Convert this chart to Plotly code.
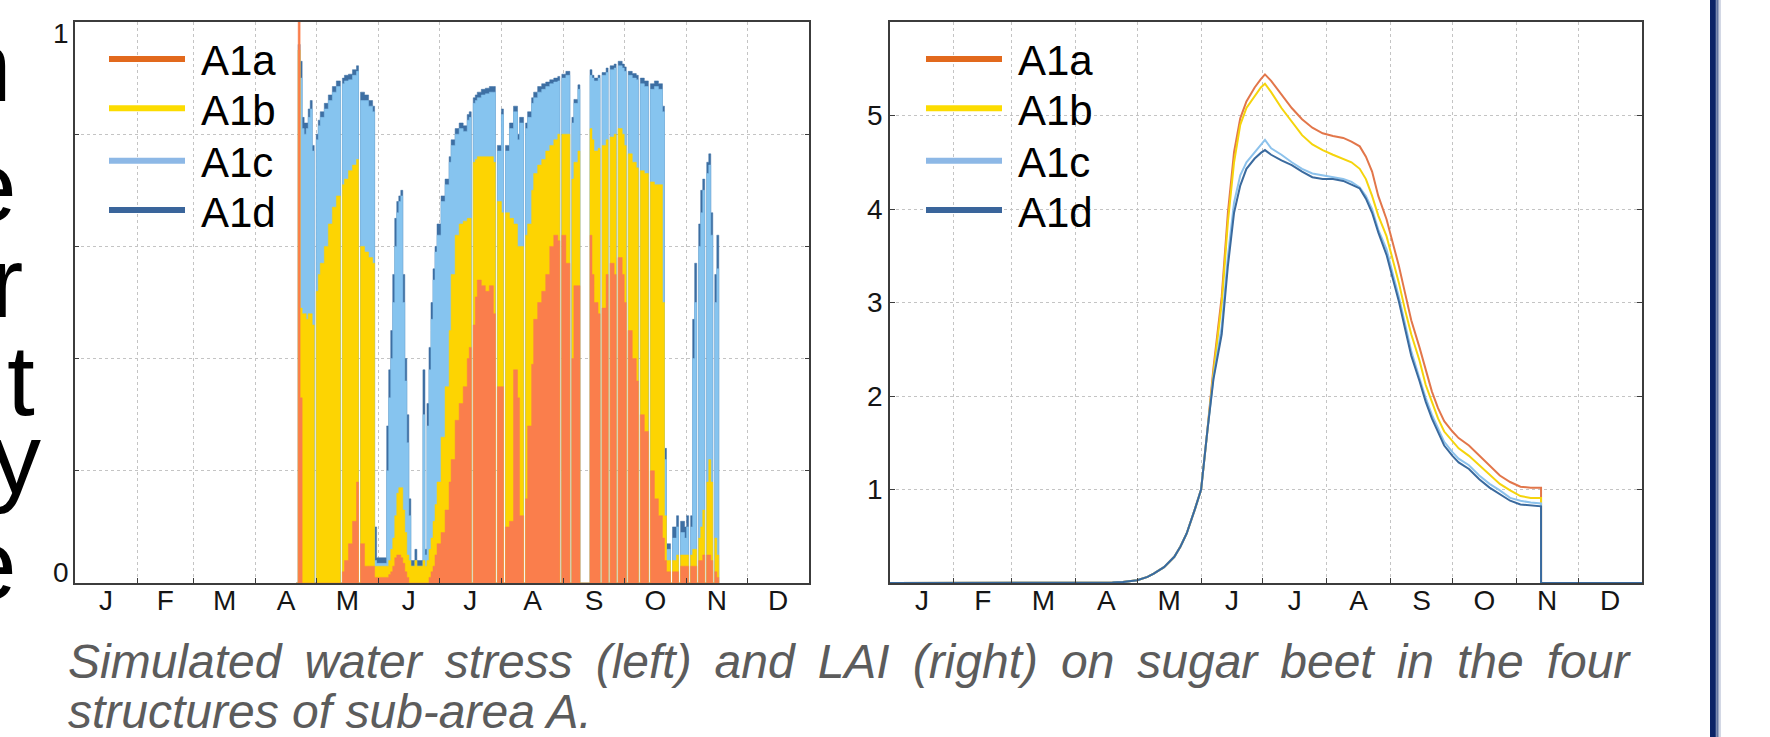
import plotly.graph_objects as go

W, H = 1770, 737

MONTH_LABELS = ["J", "F", "M", "A", "M", "J", "J", "A", "S", "O", "N", "D"]
MONTH_STARTS = [0, 31, 59, 90, 120, 151, 181, 212, 243, 273, 304, 334, 365]
SERIES = ["A1a", "A1b", "A1c", "A1d"]

# ---- water stress (left), day of year, step values
WS_DAYS = [110, 111, 112, 113, 114, 115, 116, 117, 118, 119, 120, 121, 122, 124, 126, 128, 130, 132,
           133, 134, 136, 138, 140, 141, 142, 144, 146, 148, 149, 150, 155, 156, 157, 158, 159, 160,
           161, 162, 163, 164, 165, 166, 167, 169, 170, 173, 174, 175, 176, 177, 178, 179, 180, 182,
           184, 186, 187, 189, 191, 193, 195, 196, 197, 198, 199, 200, 202, 204, 206, 208, 209, 210,
           212, 213, 214, 216, 218, 220, 221, 223, 224, 225, 227, 228, 230, 232, 234, 236, 238, 240,
           241, 242, 244, 246, 247, 248, 250, 251, 256, 257, 258, 260, 261, 262, 264, 265, 266, 268,
           269, 270, 272, 273, 274, 275, 277, 279, 280, 281, 283, 285, 286, 288, 290, 292, 293, 294,
           296, 297, 299, 300, 301, 303, 304, 305, 306, 307, 308, 309, 310, 311, 312, 313, 314, 315,
           316, 317, 318, 319, 320]
WS_A1A = [0, 1.00, 0.33, 0, 0, 0, 0, 0, 0, 0, 0, 0, 0, 0, 0, 0, 0, 0,
          0.02, 0.04, 0.07, 0.11, 0.18, 0, 0.07, 0.03, 0.03, 0.03, 0.01, 0.01, 0.01, 0.015, 0.02, 0.03, 0.045, 0.05,
          0.05, 0.045, 0.035, 0.02, 0.01, 0, 0, 0, 0, 0, 0, 0, 0.01, 0.02, 0.03, 0.05, 0.07, 0.09,
          0.13, 0.18, 0.22, 0.29, 0.32, 0.35, 0.40, 0.42, 0, 0.46, 0.51, 0.54, 0.53, 0.52, 0.53, 0.48, 0, 0.35,
          0.35, 0, 0.10, 0.11, 0.38, 0.33, 0.12, 0, 0.15, 0.28, 0.39, 0.47, 0.50, 0.52, 0.55, 0.60, 0.62, 0.61,
          0, 0.62, 0.57, 0, 0.40, 0.53, 0.53, 0, 0.62, 0.55, 0.50, 0.48, 0, 0.49, 0.55, 0, 0.57, 0.55,
          0, 0.58, 0.55, 0.50, 0, 0.45, 0.40, 0.36, 0, 0.30, 0.27, 0, 0.20, 0.15, 0.12, 0.08, 0.04, 0.02,
          0, 0.02, 0.02, 0, 0.03, 0.03, 0.03, 0, 0.03, 0.03, 0.03, 0, 0.04, 0.04, 0.05, 0, 0.05, 0.05,
          0.04, 0, 0.02, 0.01, 0]
WS_A1B = [0, 0.95, 0.49, 0.48, 0.48, 0.47, 0.48, 0.48, 0.46, 0, 0.52, 0.55, 0.57, 0.60, 0.64, 0.67, 0.69, 0,
          0.71, 0.72, 0.735, 0.745, 0.755, 0, 0.60, 0.59, 0.58, 0.57, 0.03, 0.03, 0.03, 0.04, 0.06, 0.08, 0.12, 0.16,
          0.17, 0.17, 0.13, 0.09, 0.05, 0.04, 0.03, 0.04, 0.03, 0.04, 0.03, 0.04, 0.06, 0.08, 0.11, 0.14, 0.18, 0.26,
          0.35, 0.45, 0.55, 0.62, 0.64, 0.645, 0.65, 0.65, 0, 0.75, 0.755, 0.76, 0.76, 0.76, 0.76, 0.75, 0, 0.68,
          0.66, 0, 0.66, 0.65, 0.64, 0.60, 0.60, 0, 0.62, 0.64, 0.70, 0.73, 0.745, 0.755, 0.77, 0.78, 0.79, 0.80,
          0, 0.80, 0.80, 0, 0.72, 0.75, 0.77, 0, 0.81, 0.79, 0.77, 0.775, 0, 0.78, 0.79, 0, 0.795, 0.80,
          0, 0.81, 0.80, 0.78, 0, 0.765, 0.75, 0.74, 0, 0.735, 0.73, 0, 0.715, 0.71, 0.71, 0.50, 0.12, 0.04,
          0, 0.04, 0.05, 0, 0.05, 0.05, 0.05, 0, 0.05, 0.06, 0.06, 0, 0.08, 0.10, 0.13, 0, 0.18, 0.22,
          0.18, 0, 0.08, 0.05, 0]
WS_A1C = [0, 0.95, 0.90, 0.81, 0.80, 0.81, 0.83, 0.845, 0.77, 0, 0.79, 0.815, 0.83, 0.845, 0.86, 0.875, 0.885, 0,
          0.89, 0.895, 0.897, 0.905, 0.912, 0, 0.86, 0.86, 0.85, 0.84, 0.04, 0.035, 0.20, 0.33, 0.40, 0.50, 0.60, 0.66,
          0.68, 0.69, 0.50, 0.36, 0.25, 0.12, 0.03, 0.04, 0.03, 0.30, 0.05, 0.28, 0.38, 0.47, 0.54, 0.59, 0.62, 0.68,
          0.71, 0.75, 0.78, 0.80, 0.81, 0.805, 0.825, 0.83, 0, 0.855, 0.86, 0.865, 0.87, 0.872, 0.875, 0.875, 0, 0.77,
          0.835, 0, 0.77, 0.81, 0.84, 0.79, 0.82, 0, 0.81, 0.83, 0.855, 0.865, 0.875, 0.88, 0.885, 0.89, 0.893, 0.895,
          0, 0.90, 0.905, 0, 0.82, 0.855, 0.88, 0, 0.905, 0.90, 0.895, 0.90, 0, 0.905, 0.91, 0, 0.915, 0.918,
          0, 0.922, 0.918, 0.912, 0, 0.905, 0.90, 0.897, 0, 0.89, 0.885, 0, 0.88, 0.885, 0.88, 0.84, 0.22, 0.06,
          0, 0.08, 0.10, 0, 0.09, 0.08, 0.10, 0, 0.10, 0.40, 0.50, 0, 0.60, 0.66, 0.70, 0, 0.73, 0.745,
          0.62, 0, 0.50, 0.56, 0]
WS_A1D = [0, 0.96, 0.93, 0.83, 0.82, 0.82, 0.845, 0.86, 0.78, 0, 0.80, 0.825, 0.84, 0.855, 0.87, 0.885, 0.895, 0,
          0.90, 0.905, 0.907, 0.915, 0.922, 0, 0.875, 0.87, 0.86, 0.85, 0.10, 0.045, 0.28, 0.38, 0.45, 0.55, 0.65, 0.68,
          0.69, 0.70, 0.55, 0.40, 0.30, 0.15, 0.04, 0.06, 0.04, 0.38, 0.06, 0.32, 0.42, 0.50, 0.56, 0.60, 0.64, 0.69,
          0.72, 0.76, 0.79, 0.81, 0.82, 0.815, 0.835, 0.84, 0, 0.865, 0.87, 0.875, 0.88, 0.882, 0.885, 0.885, 0, 0.78,
          0.845, 0, 0.78, 0.82, 0.85, 0.80, 0.83, 0, 0.82, 0.84, 0.865, 0.875, 0.885, 0.89, 0.893, 0.897, 0.90, 0.903,
          0, 0.907, 0.912, 0, 0.83, 0.862, 0.888, 0, 0.915, 0.905, 0.90, 0.905, 0, 0.91, 0.918, 0, 0.922, 0.925,
          0, 0.93, 0.925, 0.92, 0, 0.912, 0.908, 0.905, 0, 0.90, 0.895, 0, 0.89, 0.895, 0.89, 0.85, 0.24, 0.07,
          0, 0.10, 0.12, 0, 0.11, 0.10, 0.12, 0, 0.12, 0.47, 0.57, 0, 0.64, 0.70, 0.72, 0, 0.75, 0.765,
          0.66, 0, 0.55, 0.62, 0]

# ---- LAI (right)
LAI_DAYS = [0, 100, 108, 113, 120, 125, 128, 133, 138, 141, 144, 148, 151, 154, 157, 161, 164, 167, 170, 173,
            177, 180, 182, 185, 190, 195, 200, 205, 210, 215, 220, 224, 228, 231, 234, 237, 241, 244, 247, 250,
            253, 257, 260, 263, 266, 269, 273, 276, 281, 286, 291, 296, 301, 306, 311, 316, 316, 365]
LAI_A1A = [0, 0, 0.005, 0.01, 0.03, 0.065, 0.10, 0.17, 0.28, 0.39, 0.53, 0.79, 1.00, 1.62, 2.30, 3.06, 3.96, 4.61, 4.97, 5.15,
           5.30, 5.39, 5.44, 5.37, 5.23, 5.08, 4.96, 4.87, 4.81, 4.78, 4.76, 4.72, 4.67, 4.56, 4.40, 4.14, 3.89, 3.64, 3.39, 3.10,
           2.81, 2.52, 2.27, 2.05, 1.87, 1.73, 1.62, 1.55, 1.47, 1.36, 1.26, 1.15, 1.08, 1.03, 1.02, 1.02, 0, 0]
LAI_A1B = [0, 0, 0.005, 0.01, 0.03, 0.065, 0.10, 0.17, 0.28, 0.39, 0.53, 0.79, 1.00, 1.62, 2.25, 2.99, 3.86, 4.50, 4.90, 5.08,
           5.21, 5.30, 5.34, 5.25, 5.08, 4.94, 4.79, 4.69, 4.63, 4.58, 4.54, 4.50, 4.43, 4.32, 4.14, 3.93, 3.71, 3.46, 3.21, 2.92,
           2.66, 2.38, 2.12, 1.94, 1.76, 1.62, 1.51, 1.44, 1.36, 1.26, 1.15, 1.06, 0.99, 0.93, 0.91, 0.91, 0, 0]
LAI_A1C = [0, 0, 0.005, 0.01, 0.03, 0.065, 0.10, 0.17, 0.28, 0.39, 0.53, 0.79, 1.00, 1.62, 2.20, 2.74, 3.49, 4.07, 4.36, 4.50,
           4.61, 4.69, 4.74, 4.65, 4.58, 4.50, 4.43, 4.38, 4.36, 4.34, 4.32, 4.29, 4.23, 4.14, 4.00, 3.78, 3.57, 3.31, 3.06, 2.77,
           2.48, 2.19, 1.98, 1.80, 1.65, 1.51, 1.40, 1.33, 1.26, 1.15, 1.06, 0.99, 0.91, 0.88, 0.86, 0.85, 0, 0]
LAI_A1D = [0, 0, 0.005, 0.01, 0.03, 0.065, 0.10, 0.17, 0.28, 0.39, 0.53, 0.79, 1.00, 1.62, 2.18, 2.66, 3.39, 3.96, 4.25, 4.43,
           4.54, 4.60, 4.63, 4.58, 4.52, 4.47, 4.40, 4.34, 4.32, 4.32, 4.30, 4.26, 4.22, 4.11, 3.96, 3.75, 3.51, 3.26, 3.01, 2.72,
           2.43, 2.16, 1.94, 1.76, 1.62, 1.47, 1.36, 1.29, 1.22, 1.11, 1.02, 0.95, 0.88, 0.84, 0.83, 0.82, 0, 0]

for _s in (WS_A1A, WS_A1B, WS_A1C, WS_A1D):
    assert len(_s) == len(WS_DAYS), (len(_s), len(WS_DAYS))
for _s in (LAI_A1A, LAI_A1B, LAI_A1C, LAI_A1D):
    assert len(_s) == len(LAI_DAYS)

CAPTION_1 = "Simulated water stress (left) and LAI (right) on sugar beet in the four"
CAPTION_2 = "structures of sub-area A."
EDGE_LETTERS = ["n", "e", "r", "t", "y", "e"]

# ---- styles
FILL_COLORS = {"A1a": "#FA7E4C", "A1b": "#FDD402", "A1c": "#86C4EF", "A1d": "#3D6FA3"}
LEGEND_COLORS = {"A1a": "#E2691D", "A1b": "#FCDC00", "A1c": "#8DB8E6", "A1d": "#3A659B"}
LINE_COLORS = {"A1a": "#E2764A", "A1b": "#F5D40C", "A1c": "#8CC2EC", "A1d": "#3A6A9E"}
FONT = "Liberation Sans, Arial, sans-serif"
AX = "#3c3c3c"
GRID = "#c4c4c4"
TICK_SIZE = 28


def px(x):
    return x / W


def py(y):
    return 1 - y / H


month_centers = [(MONTH_STARTS[i] + MONTH_STARTS[i + 1]) / 2 for i in range(12)]

fig = go.Figure()

ws = {"A1a": WS_A1A, "A1b": WS_A1B, "A1c": WS_A1C, "A1d": WS_A1D}
for name in ["A1d", "A1c", "A1b", "A1a"]:
    fig.add_trace(go.Scatter(
        x=WS_DAYS, y=ws[name], name=name, mode="lines",
        line=dict(shape="hv", width=0.5, color=FILL_COLORS[name]),
        fill="tozeroy", fillcolor=FILL_COLORS[name],
        xaxis="x", yaxis="y", showlegend=False, hoverinfo="skip"))

lai = {"A1a": LAI_A1A, "A1b": LAI_A1B, "A1c": LAI_A1C, "A1d": LAI_A1D}
for name in SERIES:
    fig.add_trace(go.Scatter(
        x=LAI_DAYS, y=lai[name], name=name, mode="lines",
        line=dict(width=2, color=LINE_COLORS[name]),
        xaxis="x2", yaxis="y2", showlegend=False))

ydom = [py(583), py(22)]
xcommon = dict(
    range=[0, 365], tickmode="array", tickvals=month_centers, ticktext=MONTH_LABELS,
    ticks="", showgrid=False, zeroline=False, showline=True, mirror=True,
    linecolor=AX, linewidth=1.5, tickfont=dict(family=FONT, size=TICK_SIZE, color="#151515"),
    ticklabelstandoff=-8,
    minor=dict(tickmode="array", tickvals=MONTH_STARTS[1:-1], ticks="inside", ticklen=5,
               tickcolor=AX, showgrid=True, gridcolor=GRID, griddash="dot", gridwidth=1),
    fixedrange=True)

fig.update_layout(
    width=W, height=H, autosize=False,
    margin=dict(l=0, r=0, t=0, b=0),
    paper_bgcolor="white", plot_bgcolor="white",
    xaxis=dict(domain=[px(74.7), px(809.4)], anchor="y", **xcommon),
    yaxis=dict(domain=ydom, anchor="x", range=[0, 1], tickmode="array",
               tickvals=[0, 0.2, 0.4, 0.6, 0.8, 1.0], showticklabels=False,
               ticks="inside", ticklen=5, tickcolor=AX, showgrid=True, gridcolor=GRID,
               griddash="dot", zeroline=False, showline=True, mirror="allticks",
               linecolor=AX, linewidth=1.5),
    xaxis2=dict(domain=[px(890), px(1642)], anchor="y2", **xcommon),
    yaxis2=dict(domain=ydom, anchor="x2", range=[0, 6], tickmode="array",
                tickvals=[1, 2, 3, 4, 5], ticktext=["1", "2", "3", "4", "5"],
                ticks="inside", ticklen=5, tickcolor=AX, showgrid=True, gridcolor=GRID,
                griddash="dot", zeroline=False, showline=True, mirror="allticks",
                linecolor=AX, linewidth=1.5,
                tickfont=dict(family=FONT, size=TICK_SIZE, color="#151515")),
    showlegend=False,
)

annotations = []
shapes = []

# left axis end labels
for txt, val in [("0", 0.018), ("1", 0.980)]:
    annotations.append(dict(text=txt, xref="paper", yref="y", x=px(71), y=val,
                            xanchor="right", yanchor="middle", showarrow=False,
                            font=dict(family=FONT, size=TICK_SIZE, color="#151515")))

# manual legends
legend_y = [59, 108.3, 160.7, 210]
for (lx0, lx1, tx) in [(109, 185, 199), (926, 1002, 1016)]:
    for name, yy in zip(SERIES, legend_y):
        shapes.append(dict(type="line", xref="paper", yref="paper",
                           x0=px(lx0), x1=px(lx1), y0=py(yy), y1=py(yy),
                           line=dict(color=LEGEND_COLORS[name], width=6)))
        annotations.append(dict(text=name, xref="paper", yref="paper", x=px(tx), y=py(yy + 2),
                                xanchor="left", yanchor="middle", showarrow=False,
                                font=dict(family=FONT, size=42, color="#000000")))

# caption (first line justified with thin spaces)
cap1 = CAPTION_1.replace(" ", " \u2009")
for txt, yy in [(cap1, 661), (CAPTION_2, 711)]:
    annotations.append(dict(text="<i>" + txt + "</i>", xref="paper", yref="paper",
                            x=px(66), y=py(yy), xanchor="left", yanchor="middle",
                            showarrow=False, font=dict(family=FONT, size=48, color="#5c5c5c")))

# clipped slide text at the left edge
edge_right = [14, 19, 25, 37, 43, 19]
edge_center = [74, 194, 290, 388, 466, 572]
for ch, xr, yc in zip(EDGE_LETTERS, edge_right, edge_center):
    annotations.append(dict(text=ch, xref="paper", yref="paper", x=px(xr), y=py(yc - 8),
                            xanchor="right", yanchor="middle", showarrow=False,
                            font=dict(family=FONT, size=100, color="#000000")))

# slide frame at right
shapes.append(dict(type="rect", xref="paper", yref="paper", x0=px(1710), x1=px(1715),
                   y0=0, y1=1, line=dict(width=0), fillcolor="#0B2366"))
for i, c in enumerate(["#2D4580", "#60739F", "#9BA7C4", "#D3D8E5"]):
    shapes.append(dict(type="rect", xref="paper", yref="paper", x0=px(1715 + 1.5 * i),
                       x1=px(1716.5 + 1.5 * i), y0=0, y1=1, line=dict(width=0), fillcolor=c))

fig.update_layout(annotations=annotations, shapes=shapes)
fig.write_html("out.html", config={"displayModeBar": False})
